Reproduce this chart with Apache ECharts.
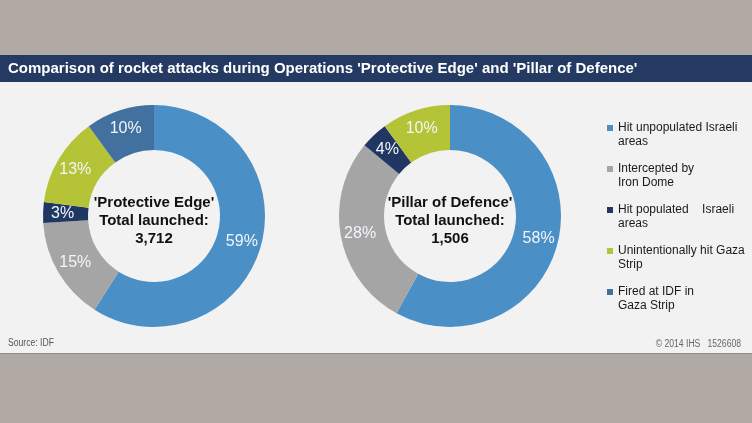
<!DOCTYPE html>
<html>
<head>
<meta charset="utf-8">
<style>
  html, body { margin: 0; padding: 0; background: #b0a9a4; }
  #chart { width: 752px; height: 423px; }
</style>
<script src="https://cdn.jsdelivr.net/npm/echarts@6/dist/echarts.min.js"></script>
</head>
<body>
<div id="chart"></div>
<script>
// categories and legend text
var categories = ['Hit unpopulated Israeli areas', 'Intercepted by Iron Dome', 'Hit populated Israeli areas', 'Unintentionally hit Gaza Strip', 'Fired at IDF in Gaza Strip'];
var legendLabels = ['Hit unpopulated Israeli\nareas', 'Intercepted by\nIron Dome', 'Hit populated    Israeli\nareas', 'Unintentionally hit Gaza\nStrip', 'Fired at IDF in\nGaza Strip'];
// share of rockets, %
var protectiveEdge = [59, 15, 3, 13, 10];
var pillarOfDefence = [58, 28, 4, 10, 0];
var totals = ['3,712', '1,506'];
var colors = ['#4a8fc6', '#a5a5a5', '#1f3762', '#b5c337', '#43719f'];

var font = 'Liberation Sans, Arial, sans-serif';
var chart = echarts.init(document.getElementById('chart'));

function buildData(values) {
    var out = [];
    for (var i = 0; i < values.length; i++) {
        if (values[i] > 0) out.push({name: categories[i], value: values[i], itemStyle: {color: colors[i]}});
    }
    return out;
}

function donut(values, cx) {
    return {
        type: 'pie',
        center: [cx, 216],
        radius: [66, 111],
        startAngle: 90,
        clockwise: true,
        avoidLabelOverlap: false,
        emphasis: {disabled: true},
        label: {
            position: 'inside',
            formatter: function (p) { return p.value + '%'; },
            color: '#f2f6fa',
            fontFamily: font,
            fontSize: 16
        },
        labelLine: {show: false},
        itemStyle: {borderWidth: 0},
        data: buildData(values)
    };
}

function centreText(name, total, cx) {
    return {
        type: 'text',
        x: cx,
        y: 221,
        style: {
            text: "'" + name + "'\nTotal launched:\n" + total,
            fontFamily: font,
            fontWeight: 'bold',
            fontSize: 15,
            lineHeight: 18,
            fill: '#111',
            align: 'center',
            verticalAlign: 'middle'
        }
    };
}

var option = {
    animation: false,
    color: colors,
    graphic: [
        {type: 'rect', shape: {x: 0, y: 82, width: 752, height: 271}, style: {fill: '#f2f2f2'}, z: -10},
        {type: 'rect', shape: {x: 0, y: 55, width: 752, height: 27}, style: {fill: '#243a62'}, z: -10},
        {type: 'rect', shape: {x: 0, y: 353, width: 752, height: 1}, style: {fill: '#8d8a88'}, z: -10},
        {
            type: 'text', x: 8, y: 69,
            style: {
                text: "Comparison of rocket attacks during Operations 'Protective Edge' and 'Pillar of Defence'",
                fontFamily: font, fontWeight: 'bold', fontSize: 15, fill: '#ffffff', verticalAlign: 'middle'
            }
        },
        {
            type: 'text', x: 8, y: 343, scaleX: 0.86,
            style: {text: 'Source: IDF', fontFamily: font, fontSize: 10, fill: '#555', verticalAlign: 'middle'}
        },
        {
            type: 'text', x: 741, y: 344, scaleX: 0.86,
            style: {text: '\u00a9 2014 IHS   1526608', fontFamily: font, fontSize: 10, fill: '#666', align: 'right', verticalAlign: 'middle'}
        },
        centreText('Protective Edge', totals[0], 154),
        centreText('Pillar of Defence', totals[1], 450)
    ],
    legend: {
        orient: 'vertical',
        left: 607,
        top: 107,
        padding: 0,
        itemWidth: 6,
        itemHeight: 6,
        itemGap: -1,
        icon: 'rect',
        selectedMode: false,
        data: categories,
        // leading blank line keeps the square level with the first text line
        formatter: function (name) { return '\n' + legendLabels[categories.indexOf(name)]; },
        textStyle: {
            fontFamily: font,
            fontSize: 12,
            lineHeight: 14,
            color: '#1a1a1a'
        }
    },
    series: [
        donut(protectiveEdge, 154),
        donut(pillarOfDefence, 450)
    ]
};

chart.setOption(option);
</script>
</body>
</html>
